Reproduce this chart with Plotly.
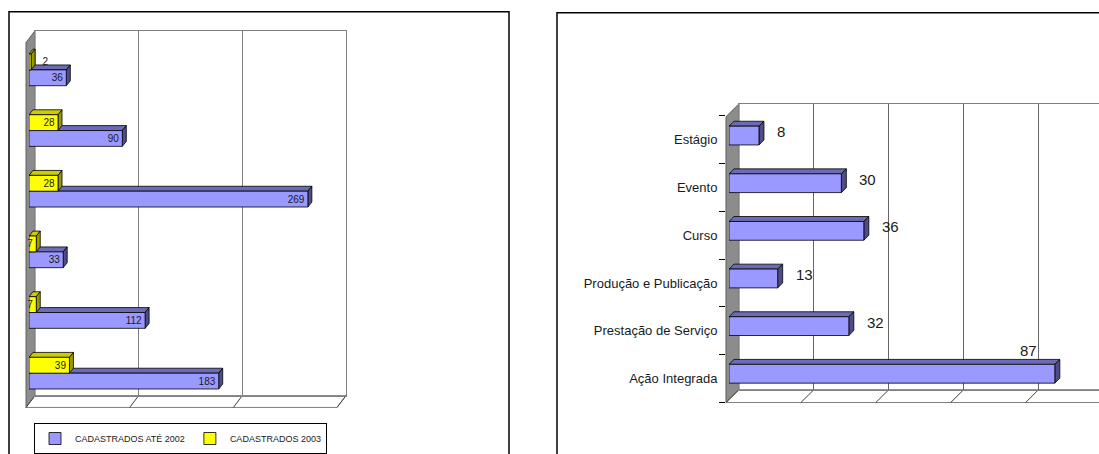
import plotly.graph_objects as go

# ---------------- data ----------------
left_series_names = ["CADASTRADOS ATÉ 2002", "CADASTRADOS 2003"]
left_until_2002 = [36, 90, 269, 33, 112, 183]      # top -> bottom
left_in_2003 = [2, 28, 28, 7, 7, 39]               # top -> bottom
left_axis_max = 300
left_axis_step = 100

right_categories = ["Estágio", "Evento", "Curso", "Produção e Publicação",
                    "Prestação de Serviço", "Ação Integrada"]   # top -> bottom
right_values = [8, 30, 36, 13, 32, 87]
right_axis_max = 100
right_axis_step = 20

# ---------------- styling / geometry (pixels) ----------------
W, H = 1099, 454
FONT = "Liberation Sans, Arial, sans-serif"
BLUE, BLUE_TOP, BLUE_SIDE = "#9999FF", "#6B6BB8", "#4D4D88"
YEL, YEL_TOP, YEL_SIDE = "#FFFF00", "#CCCC00", "#999900"
WALL, EDGE, GRID = "#8C8C8C", "#808080", "#666666"
TXT = "#1a1a1a"


def px(x):
    return x / W


def py(y):
    return 1 - y / H


# left chart
L_BACK = dict(x0=35, x1=346, top=31, bottom=400)
L_WALL_D = (9, 12)
L_BAR = dict(x0=29, x1=340, top=40, bottom=408)
L_BAR_D = (4, 5)
L_BAR_PX = 16
# right chart
R_SCALE = 3.745  # px per unit
R_BACK = dict(x0=739, top=105, bottom=394)
R_WALL_D = (13, 13)
R_BAR = dict(x0=729, top=113, bottom=402)
R_BAR_D = (5, 5)
R_BAR_PX = 19
R_LABEL = dict(top=117, bottom=407)

nL = len(left_until_2002)
nR = len(right_values)
L_pos = [nL - i - 0.5 for i in range(nL)]
R_pos = [nR - i - 0.5 for i in range(nR)]

L_xu = (L_BAR["x1"] - L_BAR["x0"]) / left_axis_max
L_yu = (L_BAR["bottom"] - L_BAR["top"]) / nL
L_hw = L_BAR_PX / L_yu
R_yu = (R_BAR["bottom"] - R_BAR["top"]) / nR
R_hw = R_BAR_PX / R_yu


def faces(values, centers, width, dxu, dyu):
    tx, ty, sx, sy = [], [], [], []
    for v, c in zip(values, centers):
        yb, yt = c - width / 2, c + width / 2
        tx += [0, v, v + dxu, dxu, 0, None]
        ty += [yt, yt, yt + dyu, yt + dyu, yt, None]
        sx += [v, v + dxu, v + dxu, v, v, None]
        sy += [yb, yb + dyu, yt + dyu, yt, yb, None]
    return (tx, ty), (sx, sy)


fig = go.Figure()

# carriers so the back-wall subplots (grid) are drawn
for xa, ya in [("x", "y"), ("x4", "y4")]:
    fig.add_trace(go.Scatter(x=[None], y=[None], xaxis=xa, yaxis=ya,
                             showlegend=False, hoverinfo="skip"))

# ----- left chart: 3D depth faces -----
L_dx, L_dy = L_BAR_D[0] / L_xu, L_BAR_D[1] / L_yu
blue_c = [p - L_hw / 2 for p in L_pos]
yel_c = [p + L_hw / 2 for p in L_pos]
for vals, cen, ctop, cside in [(left_until_2002, blue_c, BLUE_TOP, BLUE_SIDE),
                               (left_in_2003, yel_c, YEL_TOP, YEL_SIDE)]:
    (tx, ty), (sx, sy) = faces(vals, cen, L_hw, L_dx, L_dy)
    for xs, ys, col in [(tx, ty, ctop), (sx, sy, cside)]:
        fig.add_trace(go.Scatter(x=xs, y=ys, xaxis="x2", yaxis="y2", mode="lines",
                                 fill="toself", fillcolor=col,
                                 line=dict(color="#000", width=0.8),
                                 showlegend=False, hoverinfo="skip"))

# ----- left chart: front faces (bars) -----
for name, vals, cen, col in [(left_series_names[0], left_until_2002, blue_c, BLUE),
                             (left_series_names[1], left_in_2003, yel_c, YEL)]:
    inside = [v >= 5 for v in vals]
    fig.add_trace(go.Bar(
        name=name, x=vals, y=cen, orientation="h", width=L_hw,
        xaxis="x3", yaxis="y2",
        marker=dict(color=col, line=dict(color="#000", width=0.8)),
        text=[str(v) if ins else "\u00a0\u00a0\u00a0" + str(v) for v, ins in zip(vals, inside)],
        textposition=["inside" if ins else "outside" for ins in inside],
        insidetextanchor="end", textangle=0, constraintext="none",
        textfont=dict(family=FONT, size=10, color=TXT),
        cliponaxis=False, hoverinfo="skip"))

# ----- right chart -----
R_dx, R_dy = R_BAR_D[0] / R_SCALE, R_BAR_D[1] / R_yu
(tx, ty), (sx, sy) = faces(right_values, R_pos, R_hw, R_dx, R_dy)
for xs, ys, col in [(tx, ty, BLUE_TOP), (sx, sy, BLUE_SIDE)]:
    fig.add_trace(go.Scatter(x=xs, y=ys, xaxis="x5", yaxis="y5", mode="lines",
                             fill="toself", fillcolor=col,
                             line=dict(color="#000", width=0.8),
                             showlegend=False, hoverinfo="skip"))
fig.add_trace(go.Bar(
    x=right_values, y=R_pos, orientation="h", width=R_hw,
    xaxis="x6", yaxis="y5", showlegend=False,
    marker=dict(color=BLUE, line=dict(color="#000", width=0.8)),
    hoverinfo="skip"))
# category axis carrier
fig.add_trace(go.Scatter(x=[None], y=[None], xaxis="x7", yaxis="y7",
                         showlegend=False, hoverinfo="skip"))

annotations = []
label_room = 15
for v, p in zip(right_values, R_pos):
    if v + label_room > right_axis_max:
        annotations.append(dict(x=v, y=p + R_hw / 2, xref="x6", yref="y5",
                                xanchor="right", yanchor="bottom",
                                xshift=-16, yshift=3, text=str(v), showarrow=False,
                                font=dict(family=FONT, size=15, color=TXT)))
    else:
        annotations.append(dict(x=v, y=p, xref="x6", yref="y5",
                                xanchor="left", yanchor="middle",
                                xshift=16, yshift=4, text=str(v), showarrow=False,
                                font=dict(family=FONT, size=15, color=TXT)))

# ---------------- frame shapes ----------------
def poly(points, fill, line, width=1, layer="below"):
    d = "M " + " L ".join(f"{px(x):.5f},{py(y):.5f}" for x, y in points) + " Z"
    return dict(type="path", xref="paper", yref="paper", path=d,
                fillcolor=fill, line=dict(color=line, width=width), layer=layer)


def seg(x0, y0, x1, y1, color, width=1):
    return dict(type="line", xref="paper", yref="paper",
                x0=px(x0), y0=py(y0), x1=px(x1), y1=py(y1),
                line=dict(color=color, width=width), layer="below")


shapes = []
# panel borders
shapes.append(dict(type="rect", xref="paper", yref="paper",
                   x0=px(9), x1=px(509), y0=py(470), y1=py(12),
                   line=dict(color="#000", width=1.5), fillcolor="rgba(0,0,0,0)", layer="below"))
shapes.append(dict(type="rect", xref="paper", yref="paper",
                   x0=px(557), x1=px(1120), y0=py(470), y1=py(13),
                   line=dict(color="#000", width=1.5), fillcolor="rgba(0,0,0,0)", layer="below"))

# left walls / floor
dxw, dyw = L_WALL_D
b = L_BACK
shapes.append(poly([(b["x0"] - dxw, b["top"] + dyw), (b["x0"], b["top"]),
                    (b["x0"], b["bottom"]), (b["x0"] - dxw, b["bottom"] + dyw)], WALL, "#606060"))
shapes.append(poly([(b["x0"] - dxw, b["bottom"] + dyw), (b["x0"], b["bottom"]),
                    (b["x1"], b["bottom"]), (b["x1"] - dxw, b["bottom"] + dyw)], "#FFFFFF", EDGE))
L_back_xu = (b["x1"] - b["x0"]) / left_axis_max
for v in range(0, left_axis_max + 1, left_axis_step):
    xb = b["x0"] + v * L_back_xu
    shapes.append(seg(xb, b["bottom"], xb - dxw, b["bottom"] + dyw, "#404040"))

# right walls / floor
dxw, dyw = R_WALL_D
b = R_BACK
shapes.append(poly([(b["x0"] - dxw, b["top"] + dyw), (b["x0"], b["top"]),
                    (b["x0"], b["bottom"]), (b["x0"] - dxw, b["bottom"] + dyw)], WALL, "#606060"))
shapes.append(poly([(b["x0"] - dxw, b["bottom"] + dyw), (b["x0"], b["bottom"]),
                    (W + 5, b["bottom"]), (W + 5, b["bottom"] + dyw)], "#FFFFFF", EDGE))
for v in range(0, right_axis_max + 1, right_axis_step):
    xb = b["x0"] + v * R_SCALE
    if xb <= W:
        shapes.append(seg(xb, b["bottom"], xb - dxw, b["bottom"] + dyw, "#404040"))

hidden = dict(visible=False, showgrid=False, zeroline=False, fixedrange=True)

fig.update_layout(
    width=W, height=H, autosize=False,
    margin=dict(l=0, r=0, t=0, b=0, pad=0),
    paper_bgcolor="white", plot_bgcolor="rgba(0,0,0,0)",
    barmode="overlay", hovermode=False,
    font=dict(family=FONT, color=TXT),
    # left back wall
    xaxis=dict(domain=[px(L_BACK["x0"]), px(L_BACK["x1"])], range=[0, left_axis_max],
               anchor="y", showgrid=True, dtick=left_axis_step, tick0=0,
               gridcolor=EDGE, gridwidth=1, showline=True, mirror=True,
               linecolor=EDGE, linewidth=1, showticklabels=False, ticks="",
               zeroline=False, fixedrange=True),
    yaxis=dict(domain=[py(L_BACK["bottom"]), py(L_BACK["top"])], range=[0, nL],
               anchor="x", showgrid=False, showline=True, mirror=True,
               linecolor=EDGE, linewidth=1, showticklabels=False, ticks="",
               zeroline=False, fixedrange=True),
    # left bars plane
    xaxis2=dict(domain=[px(L_BAR["x0"]), px(L_BAR["x1"])], range=[0, left_axis_max],
                anchor="y2", **hidden),
    yaxis2=dict(domain=[py(L_BAR["bottom"]), py(L_BAR["top"])], range=[0, nL],
                anchor="x2", **hidden),
    xaxis3=dict(overlaying="x2", range=[0, left_axis_max], anchor="y2", **hidden),
    # right back wall
    xaxis4=dict(domain=[px(R_BACK["x0"]), 1.0], range=[0, (W - R_BACK["x0"]) / R_SCALE],
                anchor="y4", showgrid=True, dtick=right_axis_step, tick0=0,
                gridcolor=GRID, gridwidth=1, showline=True, mirror=True,
                linecolor=EDGE, linewidth=1, showticklabels=False, ticks="",
                zeroline=False, fixedrange=True),
    yaxis4=dict(domain=[py(R_BACK["bottom"]), py(R_BACK["top"])], range=[0, nR],
                anchor="x4", showgrid=False, showline=True, mirror=False,
                linecolor=EDGE, showticklabels=False, ticks="",
                zeroline=False, fixedrange=True),
    # right bars plane
    xaxis5=dict(domain=[px(R_BAR["x0"]), 1.0], range=[0, (W - R_BAR["x0"]) / R_SCALE],
                anchor="y5", **hidden),
    yaxis5=dict(domain=[py(R_BAR["bottom"]), py(R_BAR["top"])], range=[0, nR],
                anchor="x5", **hidden),
    xaxis6=dict(overlaying="x5", range=[0, (W - R_BAR["x0"]) / R_SCALE], anchor="y5", **hidden),
    # right category labels (front edge of side wall)
    xaxis7=dict(domain=[px(R_BACK["x0"] - R_WALL_D[0]), 1.0], range=[0, 1], anchor="y7",
                **hidden),
    yaxis7=dict(domain=[py(R_LABEL["bottom"]), py(R_LABEL["top"])], range=[0, nR],
                anchor="x7", tickmode="array", tickvals=R_pos, ticktext=right_categories,
                ticks="outside", ticklen=5, tickcolor="rgba(0,0,0,0)",
                tickfont=dict(family=FONT, size=13, color=TXT),
                minor=dict(tickmode="array", tickvals=list(range(nR + 1)),
                           ticks="outside", ticklen=6, tickcolor="#000", tickwidth=1),
                showgrid=False, zeroline=False, showline=False, fixedrange=True),
    legend=dict(orientation="h", x=px(180.5), xanchor="center", y=py(428), yanchor="top",
                bordercolor="#000", borderwidth=1, bgcolor="white",
                font=dict(family=FONT, size=9, color=TXT),
                traceorder="normal", itemwidth=30),
    shapes=shapes,
    annotations=annotations,
)

fig.write_html("out.html", config={"displayModeBar": False, "staticPlot": True})

# remove the browser's default page margin so the figure sits at (0, 0)
with open("out.html", encoding="utf-8") as f:
    html = f.read()
html = html.replace("<head>", "<head><style>html,body{margin:0;padding:0;overflow:hidden;}</style>", 1)
with open("out.html", "w", encoding="utf-8") as f:
    f.write(html)
